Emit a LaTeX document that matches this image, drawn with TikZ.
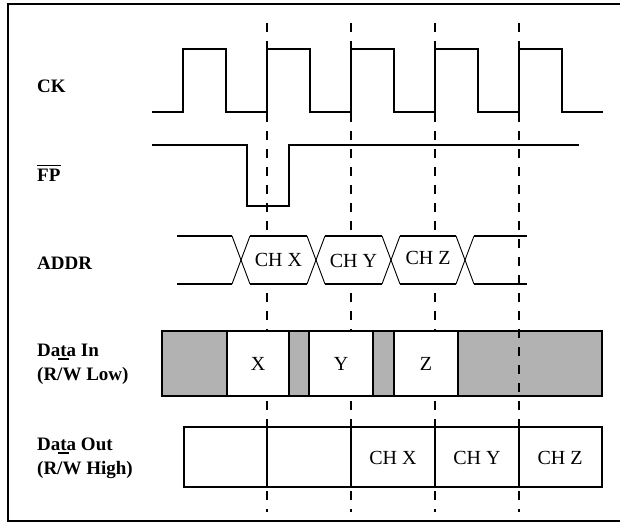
\documentclass[tikz,border=0pt]{standalone}
\usepackage{fontspec}
\setmainfont{Liberation Serif}
\begin{document}
\begin{tikzpicture}[x=1pt,y=-1pt,
  lbl/.style={font=\fontsize{19}{22}\selectfont\bfseries, inner sep=0pt, anchor=base west},
  sig/.style={line width=1.8pt},
  txt/.style={font=\fontsize{20}{24}\selectfont, inner sep=0pt},
  guide/.style={line width=1.6pt, dash pattern=on 9pt off 9pt},
  thin/.style={line width=0.9pt},
  boxline/.style={line width=1.8pt},
  shade/.style={fill=black!30}]
\useasboundingbox (0,0) rectangle (620,523);
% frame
\draw[line width=2pt] (625,4) -- (8,4) -- (8,521) -- (625,521);

% labels
\node[lbl] (ck) at (37,92) {CK};
\node[lbl] (fp) at (37,181) {FP};
\draw[line width=1.6pt] ([yshift=3pt]fp.north west) -- ([yshift=3pt]fp.north east);
\node[lbl] (addr) at (37,269) {ADDR};
\node[lbl] (din1) at (37,356) {Data In};
\node[lbl] (din2) at (37,380) {(R/W Low)};
\draw[line width=1.6pt] (58,359) -- (69,359);
\node[lbl] (dout1) at (37,450) {Data Out};
\node[lbl] (dout2) at (37,474) {(R/W High)};
\draw[line width=1.6pt] (58,453) -- (69,453);

% Data In grey background
\fill[shade] (162,331) rectangle (602,396);

% dashed guides
\foreach \x/\n in {267/a,351/b,435/c,519/d}{
  \coordinate (g\n top) at (\x,23);
  \coordinate (g\n bot) at (\x,512);
  \draw[guide] (g\n top) -- (g\n bot);
}

% CK
\draw[sig] (152,112) -- (183,112) -- (183,49) -- (226,49) -- (226,112)
  -- (267,112) -- (267,49) -- (310,49) -- (310,112)
  -- (351,112) -- (351,49) -- (394,49) -- (394,112)
  -- (435,112) -- (435,49) -- (478,49) -- (478,112)
  -- (519,112) -- (519,49) -- (562,49) -- (562,112) -- (603,112);

% FP
\draw[sig] (152,145) -- (247,145) -- (247,206) -- (289,206) -- (289,145) -- (579,145);

% ADDR
\foreach \c/\d/\n in {241/316/x,316/391/y,391/465/z}{
  \fill[white] (\c,260) -- (\c+9,236) -- (\d-9,236) -- (\d,260) -- (\d-9,284) -- (\c+9,284) -- cycle;
}
\draw[sig] (177,236) -- (232,236);
\draw[sig] (177,284) -- (232,284);
\foreach \c/\d in {241/316,316/391,391/465}{
  \draw[sig] (\c+9,236) -- (\d-9,236);
  \draw[sig] (\c+9,284) -- (\d-9,284);
}
\draw[sig] (474,236) -- (527,236);
\draw[sig] (474,284) -- (527,284);
\foreach \c in {241,316,391,465}{
  \draw[thin] (\c-9,236) -- (\c+9,284);
  \draw[thin] (\c-9,284) -- (\c+9,236);
}
\node[txt] (chx) at (278.5,260) {CH X};
\node[txt] (chy) at (353.5,261) {CH Y};
\node[txt] (chz) at (428,258) {CH Z};

% Data In boxes
\filldraw[boxline, fill=white] (227,331) rectangle (289,396);
\filldraw[boxline, fill=white] (309,331) rectangle (373,396);
\filldraw[boxline, fill=white] (394,331) rectangle (458,396);
\draw[boxline] (162,331) rectangle (602,396);
\node[txt] (dx) at (258,364) {X};
\node[txt] (dy) at (341,364) {Y};
\node[txt] (dz) at (426,364) {Z};

% Data Out
\filldraw[boxline, fill=white] (184,427) rectangle (602,487);
\foreach \x in {267,351,435,519}{
  \draw[boxline] (\x,427) -- (\x,487);
}
\node[txt] (ox) at (393,458) {CH X};
\node[txt] (oy) at (477,458) {CH Y};
\node[txt] (oz) at (560,458) {CH Z};
\end{tikzpicture}
\end{document}
